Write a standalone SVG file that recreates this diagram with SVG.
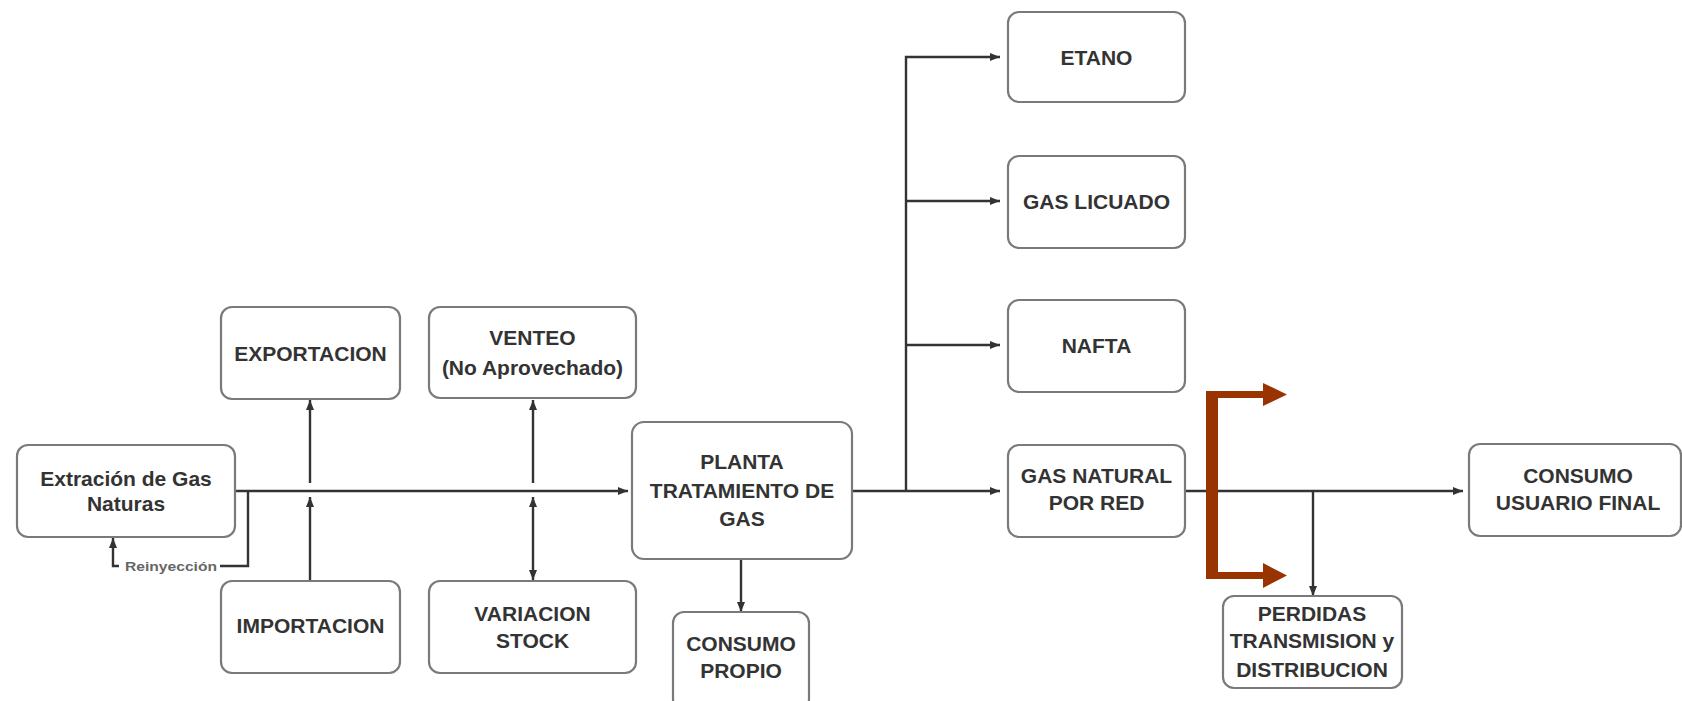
<svg xmlns="http://www.w3.org/2000/svg" width="1682" height="701" viewBox="0 0 1682 701">
<defs>
<style>
.box{fill:#fff;stroke:#7a7a7a;stroke-width:2.2}
.t{font-family:"Liberation Sans",Arial,sans-serif;font-size:21px;font-weight:bold;fill:#333;text-anchor:middle}
.ln{fill:none;stroke:#333;stroke-width:2.4}
.sm{font-family:"Liberation Sans",Arial,sans-serif;font-size:13px;fill:#666;font-weight:bold}
</style>
<marker id="ah" viewBox="0 0 10 8" refX="10" refY="4" markerWidth="10" markerHeight="8" markerUnits="userSpaceOnUse" orient="auto-start-reverse">
<path d="M0,0 L10,4 L0,8 Z" fill="#333"/>
</marker>
</defs>
<rect width="1682" height="701" fill="#fff"/>
<g id="connectors">
<line class="ln" x1="235" y1="491" x2="628" y2="491" marker-end="url(#ah)"/>
<line class="ln" x1="310" y1="483" x2="310" y2="400" marker-end="url(#ah)"/>
<line class="ln" x1="310" y1="581" x2="310" y2="497" marker-end="url(#ah)"/>
<line class="ln" x1="533" y1="483" x2="533" y2="400" marker-end="url(#ah)"/>
<line class="ln" x1="533" y1="497" x2="533" y2="580" marker-start="url(#ah)" marker-end="url(#ah)"/>
<polyline class="ln" points="248,491 248,566 220,566"/>
<polyline class="ln" points="119,566 113,566 113,538" marker-end="url(#ah)"/>
<line class="ln" x1="741" y1="559" x2="741" y2="612" marker-end="url(#ah)"/>
<line class="ln" x1="852" y1="491" x2="1000" y2="491" marker-end="url(#ah)"/>
<polyline class="ln" points="906,491 906,57 1000,57" marker-end="url(#ah)"/>
<line class="ln" x1="906" y1="201" x2="1000" y2="201" marker-end="url(#ah)"/>
<line class="ln" x1="906" y1="345" x2="1000" y2="345" marker-end="url(#ah)"/>
<line class="ln" x1="1185" y1="491" x2="1463" y2="491" marker-end="url(#ah)"/>
<line class="ln" x1="1313" y1="491" x2="1313" y2="596" marker-end="url(#ah)"/>
<path d="M1206,391 L1263,391 L1263,383 L1287,394.5 L1263,406 L1263,398 L1218,398 L1218,572 L1263,572 L1263,563 L1287,575.5 L1263,588 L1263,579 L1206,579 Z" fill="#993300"/>
<text class="sm" x="125" y="571" textLength="92" lengthAdjust="spacingAndGlyphs">Reinyección</text>
</g>
<g id="extraccion">
<rect class="box" x="17" y="445" width="218" height="92" rx="11"/>
<text class="t" x="126" y="486">Extración de Gas</text>
<text class="t" x="126" y="511">Naturas</text>
</g>
<g id="exportacion">
<rect class="box" x="221" y="307" width="179" height="92" rx="11"/>
<text class="t" x="310.5" y="361">EXPORTACION</text>
</g>
<g id="importacion">
<rect class="box" x="221" y="581" width="179" height="92" rx="11"/>
<text class="t" x="310.5" y="633">IMPORTACION</text>
</g>
<g id="venteo">
<rect class="box" x="429" y="307" width="207" height="91" rx="11"/>
<text class="t" x="532.5" y="345">VENTEO</text>
<text class="t" x="532.5" y="375">(No Aprovechado)</text>
</g>
<g id="variacion">
<rect class="box" x="429" y="581" width="207" height="92" rx="11"/>
<text class="t" x="532.5" y="621">VARIACION</text>
<text class="t" x="532.5" y="648">STOCK</text>
</g>
<g id="planta">
<rect class="box" x="632" y="422" width="220" height="137" rx="12"/>
<text class="t" x="742" y="469">PLANTA</text>
<text class="t" x="742" y="498">TRATAMIENTO DE</text>
<text class="t" x="742" y="526">GAS</text>
</g>
<g id="consumo-propio">
<rect class="box" x="673" y="612" width="136" height="98" rx="11"/>
<text class="t" x="741" y="651">CONSUMO</text>
<text class="t" x="741" y="678">PROPIO</text>
</g>
<g id="etano">
<rect class="box" x="1008" y="12" width="177" height="90" rx="11"/>
<text class="t" x="1096.5" y="65">ETANO</text>
</g>
<g id="gas-licuado">
<rect class="box" x="1008" y="156" width="177" height="92" rx="11"/>
<text class="t" x="1096.5" y="209">GAS LICUADO</text>
</g>
<g id="nafta">
<rect class="box" x="1008" y="300" width="177" height="92" rx="11"/>
<text class="t" x="1096.5" y="353">NAFTA</text>
</g>
<g id="gas-natural">
<rect class="box" x="1008" y="445" width="177" height="92" rx="11"/>
<text class="t" x="1096.5" y="483">GAS NATURAL</text>
<text class="t" x="1096.5" y="510">POR RED</text>
</g>
<g id="consumo-final">
<rect class="box" x="1469" y="444" width="212" height="92" rx="11"/>
<text class="t" x="1578" y="483">CONSUMO</text>
<text class="t" x="1578" y="510">USUARIO FINAL</text>
</g>
<g id="perdidas">
<rect class="box" x="1223" y="596" width="179" height="92" rx="11"/>
<text class="t" x="1312" y="621">PERDIDAS</text>
<text class="t" x="1312" y="648">TRANSMISION y</text>
<text class="t" x="1312" y="677">DISTRIBUCION</text>
</g>
</svg>
